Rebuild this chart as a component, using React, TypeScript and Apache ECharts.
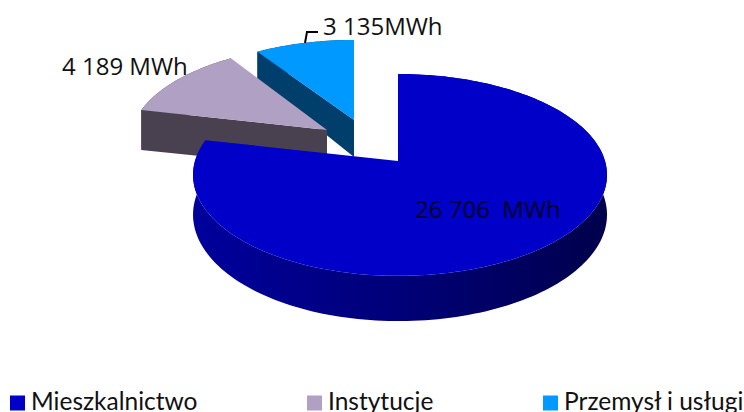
import React, { useEffect, useRef } from "react";
import * as echarts from "echarts";

const categories = ["Mieszkalnictwo", "Instytucje", "Przemysł i usługi"];
const values = [26706, 4189, 3135];
const valueLabels = ["26 706  MWh", "4 189 MWh", "3 135MWh"];
const topColors = ["#0000c8", "#afa0c4", "#0099ff"];

const FONT = "'Open Sans'";
const LEGEND_FONT = "Lato";
const total = values.reduce((a, b) => a + b, 0);

// geometry of the tilted pie (perspective projection of a circle)
const S = 99;
const P = 0.138;
const slices = [
  { ax: 398, ay: 161, sx: 1, sy: 1, dApex: 39, dRim: 39, side: "" },
  { ax: 327, ay: 130, sx: 0.965, sy: 0.965, dApex: 39, dRim: 40, side: "#4a4150" },
  { ax: 354, ay: 120, sx: 0.97, sy: 0.92, dApex: 37, dRim: 28, side: "#003e6b" },
];
const labelPos = [
  { x: 415, y: 208 },
  { x: 62, y: 65 },
  { x: 323, y: 25 },
];

function rimPoint(i: number, deg: number, extrude: number) {
  const s = slices[i];
  const r = (deg * Math.PI) / 180;
  const u = Math.sin(r);
  const v = Math.cos(r);
  const w = 1 + P * v;
  const R = u >= 0 ? 207 : 203;
  return [s.ax + (s.sx * R * u) / w, s.ay - (s.sy * S * v) / w + (extrude * (i === 0 ? 1 / w : 1))];
}

function sliceRange(i: number) {
  let acc = 0;
  for (let k = 0; k < i; k++) acc += values[k];
  return [(acc / total) * 360, ((acc + values[i]) / total) * 360];
}

function arcPoints(i: number, a0: number, a1: number, extrude: number) {
  const n = Math.max(2, Math.ceil(Math.abs(a1 - a0) / 1.5));
  const pts: number[][] = [];
  for (let k = 0; k <= n; k++) pts.push(rimPoint(i, a0 + ((a1 - a0) * k) / n, extrude));
  return pts;
}

function makeRender(i: number) {
  return (_params: any, api: any) => {
    const s = slices[i];
    const [a0, a1] = sliceRange(i);
    const top = arcPoints(i, a0, a1, 0);
    const bottom = arcPoints(i, a1, a0, s.dRim);
    const sideFill: any =
      i === 0
        ? new echarts.graphic.LinearGradient(0, 0, 1, 0, [
            { offset: 0, color: "#00009c" },
            { offset: 0.5, color: "#000078" },
            { offset: 1, color: "#00004c" },
          ])
        : s.side;
    const children: any[] = [];
    children.push({ type: "polygon", shape: { points: [...top, ...bottom] }, style: { fill: sideFill } });
    if (i !== 0) {
      const extruded = rimPoint(i, a0, s.dRim);
      children.push({
        type: "polygon",
        shape: { points: [[s.ax, s.ay], top[0], extruded, [s.ax, s.ay + s.dApex]] },
        style: { fill: s.side },
      });
    }
    children.push({
      type: "polygon",
      shape: { points: [[s.ax, s.ay], ...top] },
      style: { fill: api.visual("color") },
    });
    if (i === 2) {
      children.push({
        type: "polyline",
        shape: { points: [[305, 43], [307, 32], [318, 32]] },
        style: { stroke: "#000", lineWidth: 2, fill: "none" },
      });
    }
    children.push({
      type: "text",
      style: {
        text: valueLabels[i],
        x: labelPos[i].x,
        y: labelPos[i].y,
        fill: i === 0 ? "#000028" : "#111",
        font: `24px ${FONT}`,
        textAlign: "left",
        textVerticalAlign: "middle",
      },
    });
    return { type: "group", children };
  };
}

const legendLefts = [10, 307, 543];
// Square in the lower part of the icon box, so it sits lower than the text's centre.
const legendIcon = "path://M0,0L0,0ZM0,5L15,5L15,20L0,20Z";

export default function App() {
  const ref = useRef<HTMLDivElement>(null);
  useEffect(() => {
    document.body.style.margin = "0";
    const chart = echarts.init(ref.current!, undefined, { renderer: "svg" });
    chart.setOption({
      animation: false,
      backgroundColor: "#fff",
      legend: categories.map((name, i) => ({
        data: [{ name, icon: legendIcon }],
        left: legendLefts[i],
        top: 388,
        itemWidth: 17,
        itemHeight: 20,
        itemGap: 0,
        padding: 0,
        textStyle: { fontFamily: LEGEND_FONT, fontSize: 24.5, color: "#111" },
      })),
      series: categories.map((name, i) => ({
        type: "custom",
        name,
        coordinateSystem: "none",
        itemStyle: { color: topColors[i] },
        data: [values[i]],
        renderItem: makeRender(i),
        silent: true,
        z: 10 - i,
      })),
    });
    return () => chart.dispose();
  }, []);
  return <div ref={ref} style={{ width: 744, height: 412 }} />;
}
